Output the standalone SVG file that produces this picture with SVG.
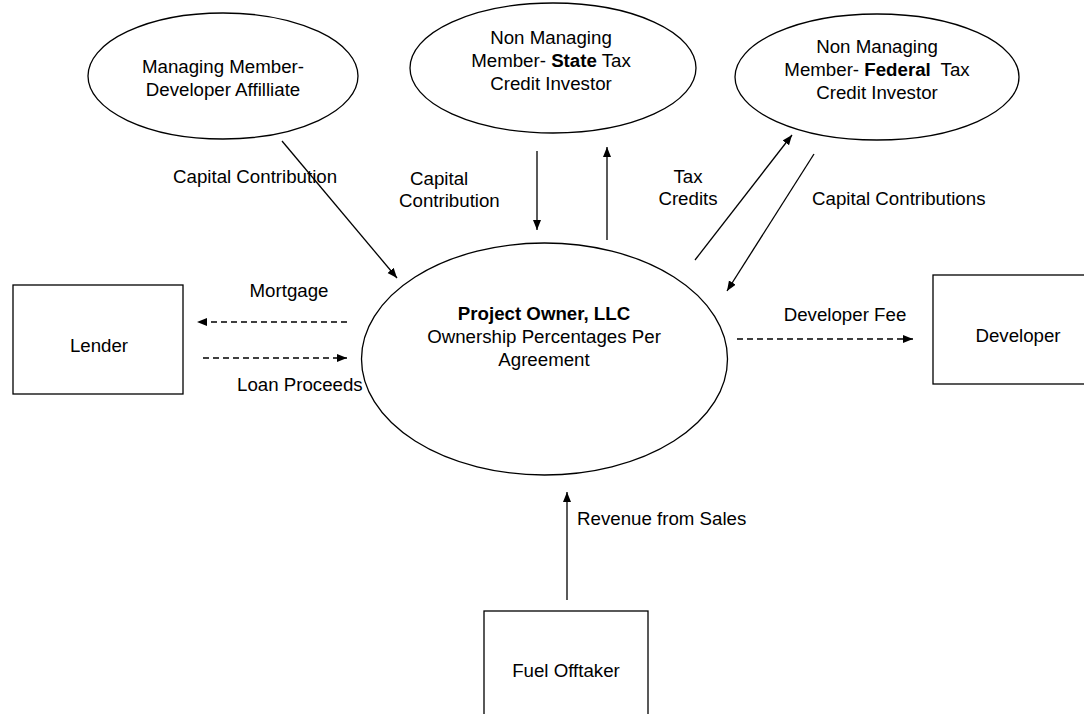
<svg xmlns="http://www.w3.org/2000/svg" width="1084" height="714" viewBox="0 0 1084 714">
<style>
text{font-family:"Liberation Sans",Arial,sans-serif;font-size:18.7px;fill:#000}
.c{text-anchor:middle}
.b{font-weight:bold}
.shape{fill:#fff;stroke:#000;stroke-width:1.3}
.ln{stroke:#000;stroke-width:1.3;fill:none}
.dash{stroke-dasharray:6 4}
</style>
<defs>
<marker id="ah" markerUnits="userSpaceOnUse" markerWidth="11" markerHeight="9" refX="10" refY="4" orient="auto">
<path d="M0,0 L10,4 L0,8 z" fill="#000"/>
</marker>
</defs>
<rect width="1084" height="714" fill="#fff"/>
<g id="connectors">
<line class="ln" x1="282" y1="141" x2="397" y2="278" marker-end="url(#ah)"/>
<line class="ln" x1="537" y1="151" x2="537" y2="230" marker-end="url(#ah)"/>
<line class="ln" x1="607" y1="240" x2="607" y2="147" marker-end="url(#ah)"/>
<line class="ln" x1="695" y1="260" x2="792" y2="135" marker-end="url(#ah)"/>
<line class="ln" x1="814" y1="154" x2="727" y2="291" marker-end="url(#ah)"/>
<line class="ln dash" x1="347" y1="322" x2="197" y2="322" marker-end="url(#ah)"/>
<line class="ln dash" x1="203" y1="358" x2="347" y2="358" marker-end="url(#ah)"/>
<line class="ln dash" x1="737" y1="339" x2="913" y2="339" marker-end="url(#ah)"/>
<line class="ln" x1="567" y1="600" x2="567" y2="492" marker-end="url(#ah)"/>
<text x="173" y="183">Capital Contribution</text>
<text x="410" y="185">Capital</text>
<text x="399" y="207">Contribution</text>
<text class="c" x="688" y="183">Tax</text>
<text class="c" x="688" y="205">Credits</text>
<text x="812" y="205">Capital Contributions</text>
<text class="c" x="289" y="297">Mortgage</text>
<text x="237" y="391">Loan Proceeds</text>
<text class="c" x="845" y="321">Developer Fee</text>
<text x="577" y="525">Revenue from Sales</text>
</g>
<g id="managing-member">
<ellipse class="shape" cx="223" cy="76" rx="135" ry="63"/>
<text class="c" x="223" y="73">Managing Member-</text>
<text class="c" x="223" y="96">Developer Affilliate</text>
</g>
<g id="state-investor">
<ellipse class="shape" cx="553" cy="68" rx="143" ry="65"/>
<text class="c" x="551" y="44">Non Managing</text>
<text class="c" x="551" y="67">Member- <tspan class="b">State</tspan> Tax</text>
<text class="c" x="551" y="90">Credit Investor</text>
</g>
<g id="federal-investor">
<ellipse class="shape" cx="877" cy="77" rx="142" ry="63"/>
<text class="c" x="877" y="53">Non Managing</text>
<text class="c" x="877" y="76">Member- <tspan class="b">Federal</tspan><tspan dx="5"> Tax</tspan></text>
<text class="c" x="877" y="99">Credit Investor</text>
</g>
<g id="project-owner">
<ellipse class="shape" cx="544.5" cy="359" rx="183" ry="116"/>
<text class="c b" x="544" y="320">Project Owner, LLC</text>
<text class="c" x="544" y="343">Ownership Percentages Per</text>
<text class="c" x="544" y="366">Agreement</text>
</g>
<g id="lender">
<rect class="shape" x="13" y="285" width="170" height="109"/>
<text class="c" x="99" y="352">Lender</text>
</g>
<g id="developer">
<rect class="shape" x="933" y="275" width="172" height="109"/>
<text class="c" x="1018" y="342">Developer</text>
</g>
<g id="fuel-offtaker">
<rect class="shape" x="484" y="611" width="164" height="110"/>
<text class="c" x="566" y="677">Fuel Offtaker</text>
</g>
</svg>
